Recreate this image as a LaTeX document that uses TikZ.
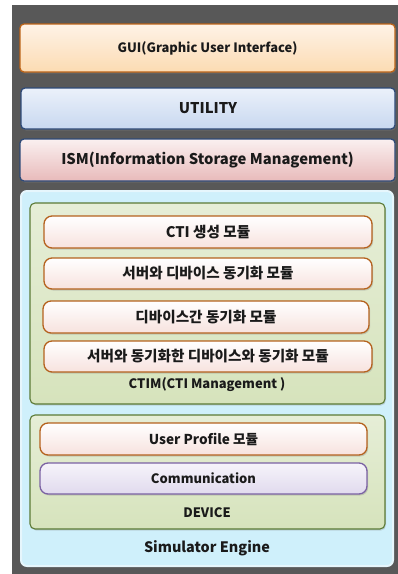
\documentclass[tikz,border=0pt]{standalone}
\usepackage{fontspec}
\setmainfont{Noto Sans CJK KR}
\usetikzlibrary{shadows}
\definecolor{bggray}{HTML}{585858}
\definecolor{guitop}{HTML}{FEF3E7}
\definecolor{guibot}{HTML}{FCDBB2}
\definecolor{guiline}{HTML}{BC6418}
\definecolor{uttop}{HTML}{EBF1FA}
\definecolor{utbot}{HTML}{C8D8F0}
\definecolor{darkblue}{HTML}{2E4A78}
\definecolor{ismtop}{HTML}{FAF0F0}
\definecolor{ismbot}{HTML}{E8BABA}
\definecolor{simfill}{HTML}{CFF0FB}
\definecolor{simline}{HTML}{E6F6FC}
\definecolor{grtop}{HTML}{E6EED7}
\definecolor{grbot}{HTML}{D6E3BC}
\definecolor{grline}{HTML}{5B7A35}
\definecolor{pktop}{HTML}{FFFFFF}
\definecolor{pkbot}{HTML}{F7E2DE}
\definecolor{pkline}{HTML}{B5621E}
\definecolor{pptop}{HTML}{F6F4FA}
\definecolor{ppbot}{HTML}{E1DAEE}
\definecolor{ppline}{HTML}{7B62A3}
\definecolor{txt}{HTML}{1A1A1A}
\tikzset{
  x=1pt, y=1pt,
  layerbox/.style={rectangle, rounded corners=4pt, line width=1.3pt, inner sep=0pt,
    font=\fontsize{12.9}{15}\selectfont\bfseries, text=txt,
    drop shadow={shadow xshift=1pt, shadow yshift=-1.5pt, opacity=0.35}},
  modbox/.style={rectangle, rounded corners=8pt, line width=1.3pt, inner sep=0pt,
    draw=pkline, top color=pktop, bottom color=pkbot,
    minimum width=328pt, minimum height=32pt,
    font=\fontsize{14.6}{17}\selectfont\bfseries, text=txt,
    drop shadow={shadow xshift=1.2pt, shadow yshift=-1.5pt, opacity=0.3}},
  groupbox/.style={rectangle, rounded corners=5pt, line width=1.1pt, inner sep=0pt,
    draw=grline, top color=grtop, bottom color=grbot,
    drop shadow={shadow xshift=1pt, shadow yshift=-1.5pt, opacity=0.25}},
  lbl/.style={inner sep=0pt, text=txt, font=\fontsize{13}{15}\selectfont\bfseries}
}
\begin{document}
\begin{tikzpicture}
\useasboundingbox (0,0) rectangle (398,-574);
\fill[white] (0,0) rectangle (398,-574);
\fill[bggray] (12,-5) rectangle (398,-574);
% top layers
\node[layerbox, draw=guiline, top color=guitop, bottom color=guibot,
  minimum width=375pt, minimum height=48pt] (gui) at (207.5,-48)
  {GUI(Graphic User Interface)};
\node[layerbox, draw=darkblue, top color=uttop, bottom color=utbot,
  minimum width=374pt, minimum height=41pt, font=\fontsize{14.8}{17}\selectfont\bfseries] (util) at (208,-108.5)
  {UTILITY};
\node[layerbox, draw=darkblue, top color=ismtop, bottom color=ismbot,
  minimum width=375pt, minimum height=42pt, font=\fontsize{14.8}{17}\selectfont\bfseries] (ism) at (207.5,-160)
  {ISM(Information Storage Management)};
% simulator engine
\node[rectangle, rounded corners=6pt, fill=simfill, draw=simline, line width=2pt,
  minimum width=372pt, minimum height=375pt, inner sep=0pt] (sim) at (207,-378.5) {};
\node[lbl, font=\fontsize{14.4}{16}\selectfont\bfseries] (simlbl) at (207,-548) {Simulator Engine};
% CTIM
\node[groupbox, minimum width=355pt, minimum height=201pt] (ctim) at (207.5,-303.5) {};
\node[modbox] (m1) at (208,-232) {CTI 생성 모듈};
\node[modbox, minimum height=31pt] (m2) at (208,-273.5) {서버와 디바이스 동기화 모듈};
\node[modbox, minimum width=326pt] (m3) at (206,-317) {디바이스간 동기화 모듈};
\node[modbox, minimum height=31pt] (m4) at (208,-356.5) {서버와 동기화한 디바이스와 동기화 모듈};
\node[lbl] (ctimlbl) at (207,-385) {CTIM(CTI Management )};
% DEVICE
\node[groupbox, minimum width=355pt, minimum height=114pt] (dev) at (207.5,-472) {};
\node[modbox, minimum width=327pt, font=\fontsize{13.6}{16}\selectfont\bfseries] (up) at (203.5,-439) {User Profile 모듈};
\node[modbox, minimum width=327pt, minimum height=31pt, draw=ppline, top color=pptop, bottom color=ppbot, font=\fontsize{13}{15}\selectfont\bfseries] (comm) at (203.5,-478.5) {Communication};
\node[lbl] (devlbl) at (207,-513) {DEVICE};
\end{tikzpicture}
\end{document}
